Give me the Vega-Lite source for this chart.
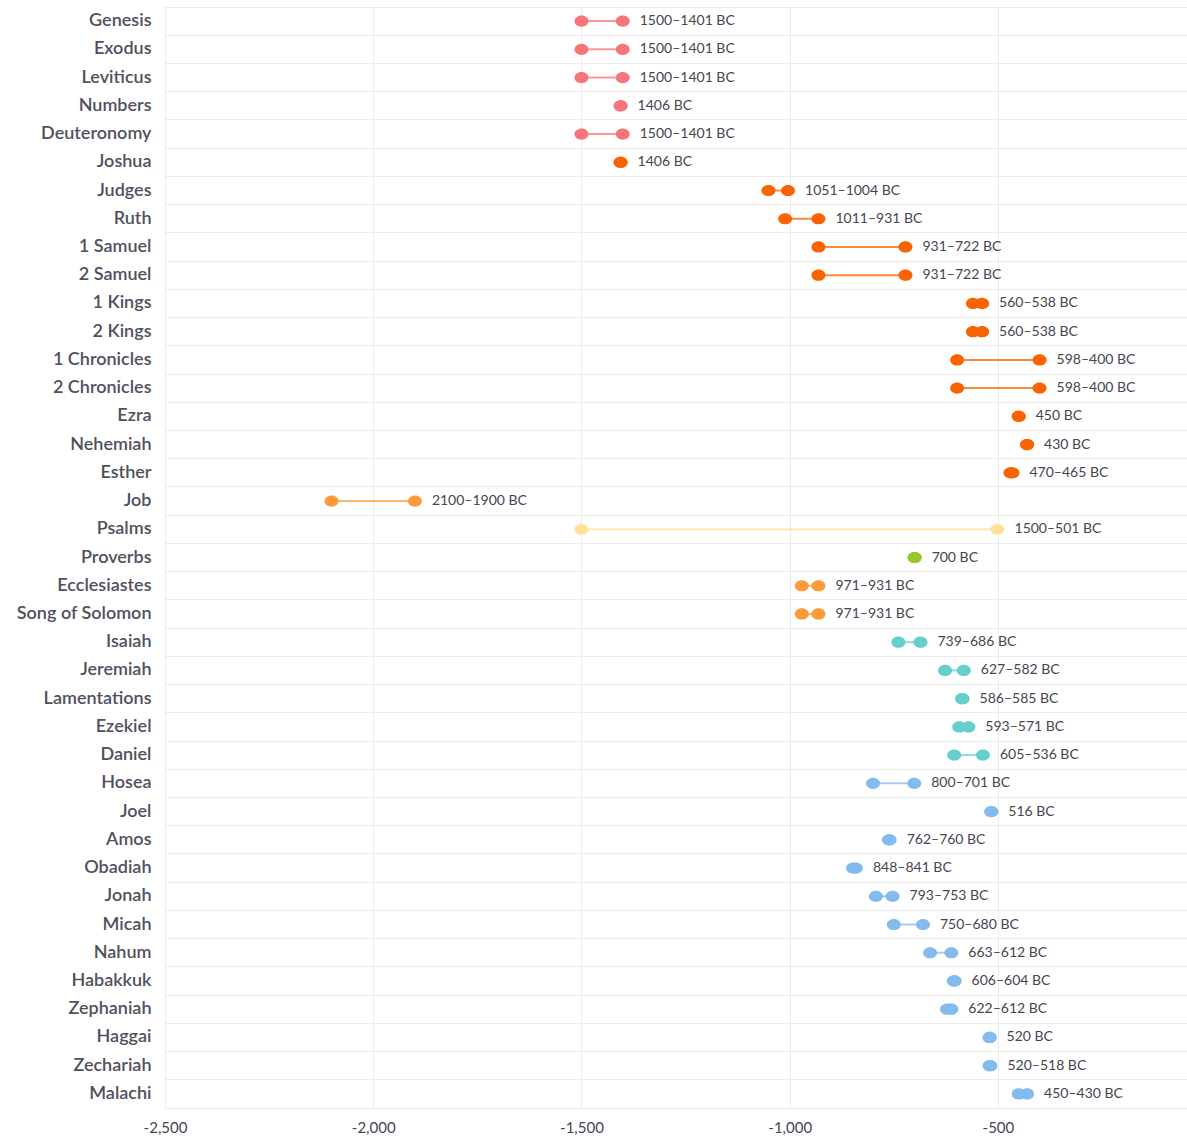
{
  "$schema": "https://vega.github.io/schema/vega-lite/v6.json",
  "width": 1022,
  "height": 1101,
  "autosize": {"type": "none"},
  "padding": {"left": 165, "top": 7, "right": 0, "bottom": 29},
  "config": {
    "view": {"stroke": "#e8e8e8"},
    "font": "Lato"
  },
  "data": {
    "values": [
      {"book": "Genesis", "start": -1500, "end": -1401, "label": "1500–1401 BC", "group": "Pentateuch"},
      {"book": "Exodus", "start": -1500, "end": -1401, "label": "1500–1401 BC", "group": "Pentateuch"},
      {"book": "Leviticus", "start": -1500, "end": -1401, "label": "1500–1401 BC", "group": "Pentateuch"},
      {"book": "Numbers", "start": -1406, "end": -1406, "label": "1406 BC", "group": "Pentateuch"},
      {"book": "Deuteronomy", "start": -1500, "end": -1401, "label": "1500–1401 BC", "group": "Pentateuch"},
      {"book": "Joshua", "start": -1406, "end": -1406, "label": "1406 BC", "group": "History"},
      {"book": "Judges", "start": -1051, "end": -1004, "label": "1051–1004 BC", "group": "History"},
      {"book": "Ruth", "start": -1011, "end": -931, "label": "1011–931 BC", "group": "History"},
      {"book": "1 Samuel", "start": -931, "end": -722, "label": "931–722 BC", "group": "History"},
      {"book": "2 Samuel", "start": -931, "end": -722, "label": "931–722 BC", "group": "History"},
      {"book": "1 Kings", "start": -560, "end": -538, "label": "560–538 BC", "group": "History"},
      {"book": "2 Kings", "start": -560, "end": -538, "label": "560–538 BC", "group": "History"},
      {"book": "1 Chronicles", "start": -598, "end": -400, "label": "598–400 BC", "group": "History"},
      {"book": "2 Chronicles", "start": -598, "end": -400, "label": "598–400 BC", "group": "History"},
      {"book": "Ezra", "start": -450, "end": -450, "label": "450 BC", "group": "History"},
      {"book": "Nehemiah", "start": -430, "end": -430, "label": "430 BC", "group": "History"},
      {"book": "Esther", "start": -470, "end": -465, "label": "470–465 BC", "group": "History"},
      {"book": "Job", "start": -2100, "end": -1900, "label": "2100–1900 BC", "group": "Wisdom"},
      {"book": "Psalms", "start": -1500, "end": -501, "label": "1500–501 BC", "group": "Psalms"},
      {"book": "Proverbs", "start": -700, "end": -700, "label": "700 BC", "group": "Proverbs"},
      {"book": "Ecclesiastes", "start": -971, "end": -931, "label": "971–931 BC", "group": "Wisdom"},
      {"book": "Song of Solomon", "start": -971, "end": -931, "label": "971–931 BC", "group": "Wisdom"},
      {"book": "Isaiah", "start": -739, "end": -686, "label": "739–686 BC", "group": "Major Prophets"},
      {"book": "Jeremiah", "start": -627, "end": -582, "label": "627–582 BC", "group": "Major Prophets"},
      {"book": "Lamentations", "start": -586, "end": -585, "label": "586–585 BC", "group": "Major Prophets"},
      {"book": "Ezekiel", "start": -593, "end": -571, "label": "593–571 BC", "group": "Major Prophets"},
      {"book": "Daniel", "start": -605, "end": -536, "label": "605–536 BC", "group": "Major Prophets"},
      {"book": "Hosea", "start": -800, "end": -701, "label": "800–701 BC", "group": "Minor Prophets"},
      {"book": "Joel", "start": -516, "end": -516, "label": "516 BC", "group": "Minor Prophets"},
      {"book": "Amos", "start": -762, "end": -760, "label": "762–760 BC", "group": "Minor Prophets"},
      {"book": "Obadiah", "start": -848, "end": -841, "label": "848–841 BC", "group": "Minor Prophets"},
      {"book": "Jonah", "start": -793, "end": -753, "label": "793–753 BC", "group": "Minor Prophets"},
      {"book": "Micah", "start": -750, "end": -680, "label": "750–680 BC", "group": "Minor Prophets"},
      {"book": "Nahum", "start": -663, "end": -612, "label": "663–612 BC", "group": "Minor Prophets"},
      {"book": "Habakkuk", "start": -606, "end": -604, "label": "606–604 BC", "group": "Minor Prophets"},
      {"book": "Zephaniah", "start": -622, "end": -612, "label": "622–612 BC", "group": "Minor Prophets"},
      {"book": "Haggai", "start": -520, "end": -520, "label": "520 BC", "group": "Minor Prophets"},
      {"book": "Zechariah", "start": -520, "end": -518, "label": "520–518 BC", "group": "Minor Prophets"},
      {"book": "Malachi", "start": -450, "end": -430, "label": "450–430 BC", "group": "Minor Prophets"}
    ]
  },
  "encoding": {
    "y": {
      "field": "book",
      "type": "nominal",
      "sort": null,
      "title": null,
      "scale": {"paddingInner": 0, "paddingOuter": 0},
      "axis": {
        "domain": false,
        "ticks": false,
        "grid": true,
        "bandPosition": 0,
        "gridColor": "#ececec",
        "labelFontSize": 18,
        "labelFontWeight": 600,
        "labelColor": "#50505e",
        "labelFont": "Lato",
        "labelPadding": 14
      }
    },
    "color": {
      "field": "group",
      "type": "nominal",
      "legend": null,
      "scale": {
        "domain": ["Pentateuch", "History", "Wisdom", "Psalms", "Proverbs", "Major Prophets", "Minor Prophets"],
        "range": ["#f7757a", "#fa6400", "#fd9a3a", "#ffe29a", "#97c72f", "#64cfcb", "#84bbef"]
      }
    }
  },
  "layer": [
    {
      "mark": {"type": "rule", "strokeWidth": 2, "opacity": 0.75},
      "encoding": {
        "x": {
          "field": "start",
          "type": "quantitative",
          "title": null,
          "scale": {"domain": [-2500, -46], "nice": false, "zero": false},
          "axis": {
            "values": [-2500, -2000, -1500, -1000, -500],
            "labelExpr": "replace(format(datum.value, ','), '\u2212', '-')",
            "labelFlush": false,
            "domain": false,
            "ticks": false,
            "grid": true,
            "gridColor": "#ececec",
            "labelFontSize": 15,
            "labelColor": "#454552",
            "labelFont": "Lato",
            "labelPadding": 12
          }
        },
        "x2": {"field": "end"}
      }
    },
    {
      "mark": {"type": "point", "filled": true, "opacity": 1, "size": 196, "shape": "M -1 0 A 1 0.8 0 1 0 1 0 A 1 0.8 0 1 0 -1 0 Z"},
      "encoding": {"x": {"field": "start", "type": "quantitative", "title": null}}
    },
    {
      "mark": {"type": "point", "filled": true, "opacity": 1, "size": 196, "shape": "M -1 0 A 1 0.8 0 1 0 1 0 A 1 0.8 0 1 0 -1 0 Z"},
      "encoding": {"x": {"field": "end", "type": "quantitative", "title": null}}
    },
    {
      "mark": {"type": "text", "align": "left", "dx": 17, "fontSize": 14, "font": "Lato", "baseline": "middle"},
      "encoding": {
        "x": {"field": "end", "type": "quantitative", "title": null},
        "text": {"field": "label"},
        "color": {"value": "#454552"}
      }
    }
  ]
}
